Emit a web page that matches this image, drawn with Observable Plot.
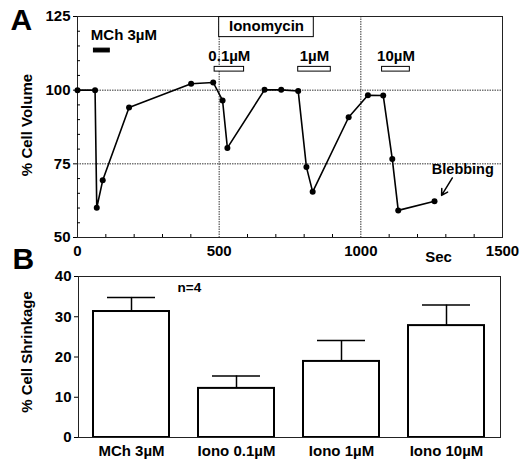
<!DOCTYPE html>
<html>
<head>
<meta charset="utf-8">
<script src="https://cdn.jsdelivr.net/npm/d3@7"></script>
<script src="https://cdn.jsdelivr.net/npm/@observablehq/plot@0.6"></script>
<style>
  html, body { margin: 0; padding: 0; background: #fff; }
  #wrap { position: relative; width: 521px; height: 463px; overflow: hidden; }
  #wrap svg { position: absolute; left: 0; }
  #panelA { top: 0; }
  #panelB { top: 240px; }
</style>
</head>
<body>
<div id="wrap"></div>
<script>
// ---------- Panel A data ----------
const timeSec = [0, 62, 68, 89, 182, 401, 479, 512, 529, 660, 719, 779, 808, 830, 957, 1025, 1079, 1111, 1132, 1260];
const cellVolume = [100, 100, 60.1, 69.4, 94.1, 102.2, 102.6, 96.5, 80.4, 100.1, 100.1, 99.7, 73.9, 65.5, 90.8, 98.3, 98.2, 76.6, 59.2, 62.3];

const treatLabels = ["MCh 3\u00b5M", "0.1\u00b5M", "1\u00b5M", "10\u00b5M"];
const treatStart = [58, 484, 779, 1075];
const treatEnd = [114, 588, 894, 1173];
const treatFilled = [true, false, false, false];

const ionoLabel = "Ionomycin";
const ionoStart = 500;
const ionoEnd = 834;

const volTicks = [50, 75, 100, 125];
const volMinor = [55, 60, 65, 70, 80, 85, 90, 95, 105, 110, 115, 120];
const timeTicks = [0, 500, 1000, 1500];
const timeMinor = [100, 200, 300, 400, 600, 700, 800, 900, 1100, 1200, 1300, 1400];
const gridVol = [75, 100];
const gridTime = [500, 1000];

// ---------- Panel B data ----------
const groups = ["MCh 3\u00b5M", "Iono 0.1\u00b5M", "Iono 1\u00b5M", "Iono 10\u00b5M"];
const shrinkMean = [31.3, 12.2, 18.9, 27.8];
const shrinkErr = [3.5, 3.1, 5.2, 5.1];
const shrinkTicks = [0, 10, 20, 30, 40];

const FONT = "Liberation Sans, Arial, Helvetica, sans-serif";

const series = timeSec.map((t, i) => ({t, v: cellVolume[i]}));
const treatments = treatLabels.map((label, i) => ({
  label, start: treatStart[i], end: treatEnd[i], filled: treatFilled[i],
  mid: (treatStart[i] + treatEnd[i]) / 2
}));
const ionoBox = [{start: ionoStart, end: ionoEnd, mid: (ionoStart + ionoEnd) / 2, label: ionoLabel}];
const last = series[series.length - 1];

const txt = {fontFamily: FONT, fontWeight: "bold", fontSize: 15, fill: "black"};

const A = Plot.plot({
  width: 521, height: 275,
  marginLeft: 77, marginRight: 19, marginTop: 16, marginBottom: 38,
  style: {fontFamily: FONT, background: "white"},
  x: {domain: [0, 1500]},
  y: {domain: [50, 125]},
  marks: [
    Plot.ruleY(gridVol, {stroke: "#333", strokeWidth: 1, strokeDasharray: "1.5,1"}),
    Plot.ruleX(gridTime, {stroke: "#333", strokeWidth: 1, strokeDasharray: "1.5,1"}),
    Plot.frame({stroke: "#222", strokeWidth: 1}),
    Plot.axisY({ticks: volTicks, tickSize: 4, tickPadding: 3, label: null, ...txt}),
    Plot.axisY({ticks: volMinor, tickSize: 3, dx: 3, text: null, label: null}),
    Plot.axisX({ticks: timeTicks, tickSize: 0, tickPadding: 8, tickFormat: d => String(d), label: null, ...txt}),
    Plot.axisX({ticks: timeMinor, tickSize: 3, dy: -3, text: null, label: null}),
    // treatment bars
    Plot.rect(treatments, {x1: "start", x2: "end", y1: 112.8, y2: 114.1,
      fill: "black", stroke: "black", strokeWidth: 1,
      filter: d => d.filled}),
    Plot.rect(treatments, {x1: "start", x2: "end", y1: 106.3, y2: 107.9,
      fill: "white", stroke: "black", strokeWidth: 1,
      filter: d => !d.filled}),
    Plot.text(treatments, {x: "mid", y: 118.6, text: "label", dx: 22, filter: d => d.filled, ...txt}),
    Plot.text(treatments, {x: "mid", y: 111.4, text: "label", filter: d => !d.filled, ...txt}),
    // ionomycin box
    Plot.rect(ionoBox, {x1: "start", x2: "end", y1: 118.0, y2: 124.8, fill: "white", stroke: "black", strokeWidth: 1}),
    Plot.text(ionoBox, {x: "mid", y: 121.6, text: "label", ...txt}),
    // data
    Plot.line(series, {x: "t", y: "v", stroke: "black", strokeWidth: 1.6}),
    Plot.dot(series, {x: "t", y: "v", r: 3, fill: "black"}),
    // blebbing annotation
    Plot.arrow([last], {x1: 1323, y1: 70.2, x2: 1285, y2: 64.3, stroke: "black", strokeWidth: 1.5, headLength: 7}),
    Plot.text(["Blebbing"], {x: 1360, y: 73.0, ...txt, fontSize: 14.5}),
    // axis title and panel letter
    Plot.text(["% Cell Volume"], {frameAnchor: "left", textAnchor: "middle", dx: -50, dy: -2, rotate: -90, ...txt}),
    Plot.text(["Sec"], {frameAnchor: "bottom-left", textAnchor: "middle", lineAnchor: "middle", dx: 361, dy: 20, ...txt}),
    Plot.text(["A"], {frameAnchor: "top-left", textAnchor: "start", lineAnchor: "middle", dx: -67, dy: 4, ...txt, fontSize: 30})
  ]
});
A.id = "panelA";

const bars = groups.map((g, i) => ({g, m: shrinkMean[i], top: shrinkMean[i] + shrinkErr[i]}));

const B = Plot.plot({
  width: 521, height: 223,
  marginLeft: 78, marginRight: 21, marginTop: 36, marginBottom: 26,
  style: {fontFamily: FONT, background: "transparent"},
  x: {domain: groups, paddingInner: 0.274, paddingOuter: 0.137},
  y: {domain: [0, 40]},
  marks: [
    Plot.ruleX(bars, {x: "g", y1: "m", y2: "top", stroke: "black", strokeWidth: 1.5}),
    Plot.tickY(bars, {x: "g", y: "top", stroke: "black", strokeWidth: 1.5, insetLeft: 14, insetRight: 14}),
    Plot.barY(bars, {x: "g", y: "m", fill: "white", stroke: "black", strokeWidth: 2}),
    Plot.frame({stroke: "#222", strokeWidth: 1}),
    Plot.axisY({ticks: shrinkTicks, tickSize: 4, tickPadding: 3, label: null, ...txt}),
    Plot.axisX({tickSize: 0, tickPadding: 8, label: null, ...txt}),
    Plot.text(["n=4"], {frameAnchor: "top-left", textAnchor: "start", lineAnchor: "middle", dx: 99, dy: 11, ...txt, fontSize: 13.5}),
    Plot.text(["% Cell Shrinkage"], {frameAnchor: "left", textAnchor: "middle", dx: -51, dy: -5, rotate: -90, ...txt}),
    Plot.text(["B"], {frameAnchor: "top-left", textAnchor: "start", lineAnchor: "middle", dx: -66, dy: -17, ...txt, fontSize: 30})
  ]
});
B.id = "panelB";

const wrap = document.getElementById("wrap");
wrap.appendChild(A);
wrap.appendChild(B);
</script>
</body>
</html>
